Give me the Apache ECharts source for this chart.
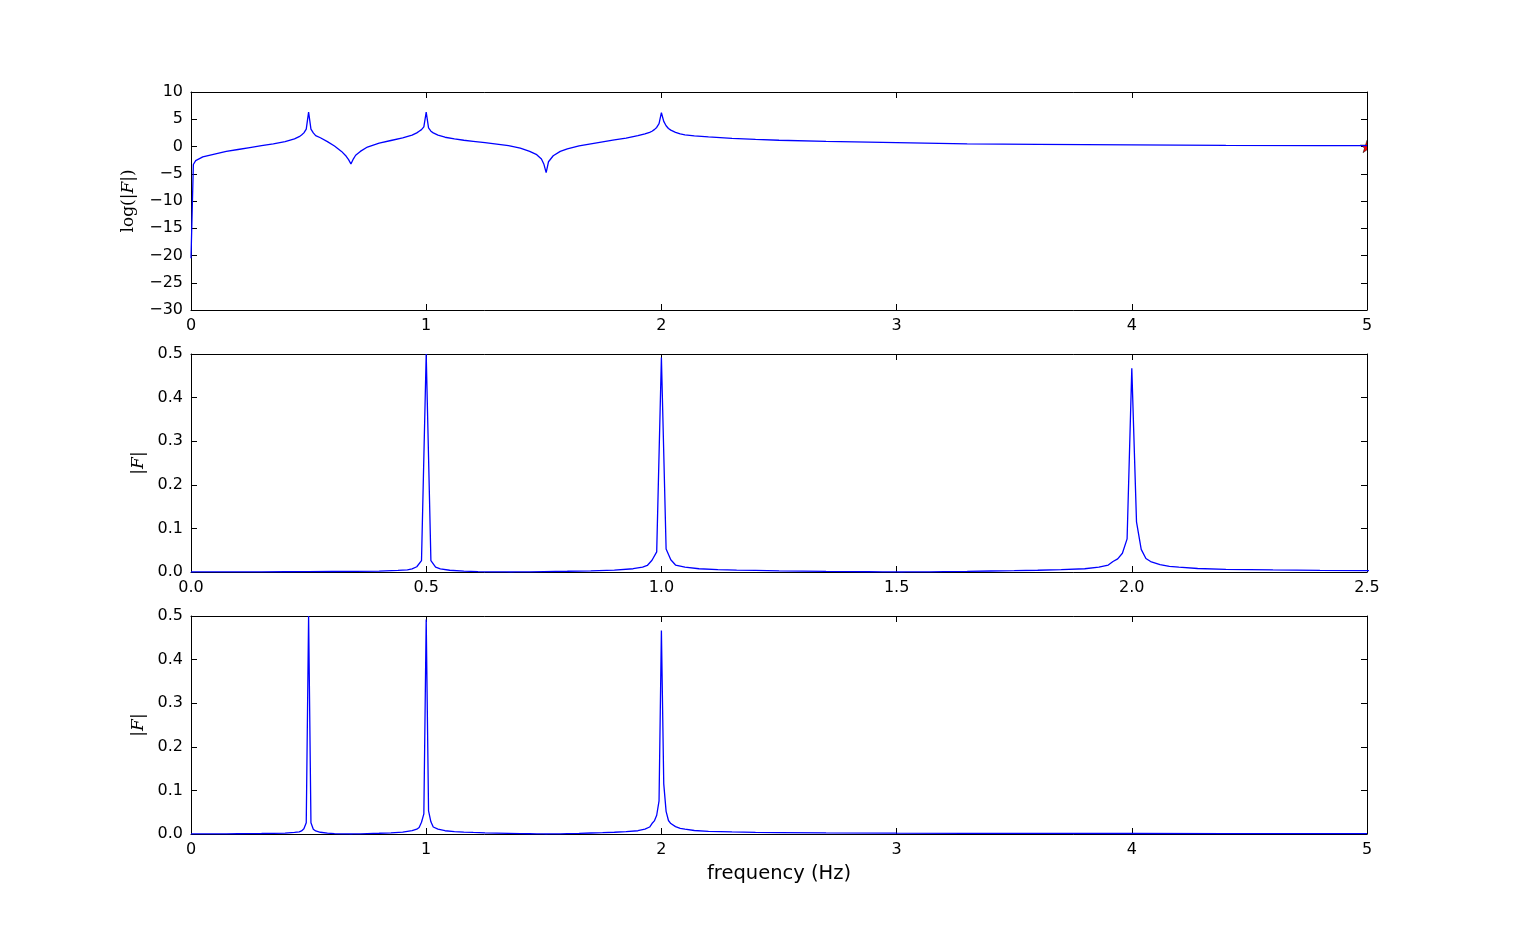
<!DOCTYPE html>
<html>
<head>
<meta charset="utf-8">
<script src="https://cdn.jsdelivr.net/npm/echarts@6/dist/echarts.min.js"></script>
<style>
html,body{margin:0;padding:0;background:#fff;}
#chart{width:1518px;height:927px;}
</style>
</head>
<body>
<div id="chart"></div>
<script>
// Frequencies (Hz) at which values were read
const freqs = [0, 0.01, 0.02, 0.05, 0.1, 0.15, 0.2, 0.25, 0.3, 0.35, 0.4, 0.44, 0.46, 0.47, 0.48, 0.49, 0.5, 0.51, 0.52, 0.53, 0.55, 0.58, 0.61, 0.64, 0.66, 0.67, 0.68, 0.69, 0.7, 0.72, 0.75, 0.8, 0.85, 0.9, 0.94, 0.96, 0.97, 0.98, 0.99, 1.0, 1.01, 1.02, 1.03, 1.05, 1.08, 1.12, 1.16, 1.2, 1.25, 1.3, 1.35, 1.4, 1.44, 1.47, 1.49, 1.5, 1.51, 1.52, 1.54, 1.57, 1.6, 1.65, 1.7, 1.75, 1.8, 1.85, 1.9, 1.93, 1.95, 1.96, 1.97, 1.98, 1.99, 2.0, 2.01, 2.02, 2.03, 2.04, 2.06, 2.08, 2.1, 2.14, 2.2, 2.3, 2.4, 2.5, 2.7, 3.0, 3.3, 3.6, 4.0, 4.4, 4.8, 5.0];

// log(|F|)
const logF = [-20.5, -3.3, -2.6, -1.9, -1.4, -0.9, -0.55, -0.2, 0.15, 0.5, 0.9, 1.4, 1.8, 2.1, 2.5, 3.2, 6.3, 3.2, 2.5, 2.0, 1.6, 0.9, 0.1, -0.9, -1.8, -2.4, -3.2, -2.3, -1.6, -0.9, -0.1, 0.6, 1.1, 1.6, 2.1, 2.5, 2.8, 3.1, 3.6, 6.3, 3.4, 2.8, 2.5, 2.1, 1.7, 1.4, 1.15, 0.95, 0.7, 0.45, 0.15, -0.3, -0.9, -1.5, -2.3, -3.2, -4.8, -2.8, -1.7, -0.9, -0.45, 0.1, 0.5, 0.85, 1.2, 1.55, 2.0, 2.3, 2.6, 2.8, 3.1, 3.5, 4.2, 6.2, 4.6, 3.8, 3.3, 3.0, 2.6, 2.3, 2.15, 1.95, 1.75, 1.5, 1.3, 1.15, 0.95, 0.7, 0.5, 0.4, 0.3, 0.22, 0.17, 0.15];

// |F| read from middle / bottom panels
const absF = [0, 0.0001, 0.0001, 0.0002, 0.0003, 0.0004, 0.0006, 0.0008, 0.0011, 0.0015, 0.0022, 0.0037, 0.005, 0.007, 0.012, 0.026, 0.5, 0.026, 0.011, 0.007, 0.004, 0.002, 0.001, 0.0004, 0.0002, 0.0001, 0.00004, 0.0001, 0.0002, 0.0004, 0.0009, 0.0017, 0.0028, 0.0045, 0.0075, 0.011, 0.015, 0.027, 0.046, 0.492, 0.053, 0.028, 0.016, 0.011, 0.0075, 0.0055, 0.0043, 0.0035, 0.0027, 0.0021, 0.0015, 0.001, 0.0006, 0.0003, 0.0002, 0.0001, 0.00001, 0.0001, 0.0002, 0.0005, 0.0009, 0.0015, 0.0023, 0.003, 0.004, 0.0055, 0.0075, 0.011, 0.016, 0.024, 0.03, 0.043, 0.076, 0.467, 0.115, 0.052, 0.031, 0.024, 0.017, 0.013, 0.011, 0.008, 0.006, 0.0047, 0.0038, 0.0032, 0.0025, 0.0018, 0.0015, 0.0013, 0.0012, 0.001, 0.0009, 0.0008];

// Marker (red star) in top panel
const starPoint = [5, 0.0];

const FONT = 'DejaVu Sans';
const minus = v => String(v).replace('-', '\u2212');
const STAR = 'M50,0 L61,35 L98,35 L68,57 L79,91 L50,70 L21,91 L32,57 L2,35 L39,35 Z';

function gridDef(top) { return {left: 191, right: 151, top: top, height: 218, containLabel: false}; }

function xAx(grid, max, interval, fmt, pos, extra) {
  const a = {
    type: 'value', gridIndex: grid, min: 0, max: max, interval: interval, position: pos,
    axisLine: {show: true, onZero: false, lineStyle: {color: '#000', width: 1}},
    axisTick: {show: true, inside: true, length: 6, lineStyle: {color: '#000'}},
    axisLabel: {show: pos === 'bottom', color: '#000', fontFamily: FONT, fontSize: 16, margin: 8, formatter: fmt},
    splitLine: {show: false}
  };
  return Object.assign(a, extra || {});
}
function yAx(grid, min, max, interval, fmt, pos, extra) {
  const a = {
    type: 'value', gridIndex: grid, min: min, max: max, interval: interval, position: pos,
    axisLine: {show: true, onZero: false, lineStyle: {color: '#000', width: 1}},
    axisTick: {show: true, inside: true, length: 6, lineStyle: {color: '#000'}},
    axisLabel: {show: pos === 'left', color: '#000', fontFamily: FONT, fontSize: 16, margin: 8, formatter: fmt},
    splitLine: {show: false}
  };
  return Object.assign(a, extra || {});
}

const richMath = {
  r: {fontFamily: 'DejaVu Serif', fontSize: 17, color: '#000'},
  i: {fontFamily: 'DejaVu Serif', fontStyle: 'italic', fontSize: 17, color: '#000'}
};

const f0 = v => minus(v);
const f1 = v => v.toFixed(1);

const option = {
  animation: false,
  backgroundColor: '#fff',
  grid: [gridDef(92), gridDef(354), gridDef(616)],
  xAxis: [
    xAx(0, 5, 1, f0, 'bottom'),
    xAx(0, 5, 1, f0, 'top'),
    xAx(1, 2.5, 0.5, f1, 'bottom'),
    xAx(1, 2.5, 0.5, f1, 'top'),
    xAx(2, 5, 1, f0, 'bottom', {name: 'frequency (Hz)', nameLocation: 'middle', nameGap: 30,
      nameTextStyle: {fontFamily: FONT, fontSize: 19.5, color: '#000'}}),
    xAx(2, 5, 1, f0, 'top')
  ],
  yAxis: [
    yAx(0, -30, 10, 5, f0, 'left', {name: '{r|log(|}{i|F}{r||)}', nameLocation: 'middle', nameGap: 54,
      nameRotate: 90, nameTextStyle: {rich: richMath}}),
    yAx(0, -30, 10, 5, f0, 'right'),
    yAx(1, 0, 0.5, 0.1, f1, 'left', {name: '{r||}{i|F}{r||}', nameLocation: 'middle', nameGap: 44,
      nameRotate: 90, nameTextStyle: {rich: richMath}}),
    yAx(1, 0, 0.5, 0.1, f1, 'right'),
    yAx(2, 0, 0.5, 0.1, f1, 'left', {name: '{r||}{i|F}{r||}', nameLocation: 'middle', nameGap: 44,
      nameRotate: 90, nameTextStyle: {rich: richMath}}),
    yAx(2, 0, 0.5, 0.1, f1, 'right')
  ],
  series: [
    {type: 'line', xAxisIndex: 0, yAxisIndex: 0, data: freqs.map((f, k) => [f, logF[k]]),
      showSymbol: false, symbol: 'none', lineStyle: {color: '#0000ff', width: 1.3}, clip: true},
    {type: 'custom', xAxisIndex: 0, yAxisIndex: 0, data: [starPoint], clip: true,
      renderItem: function (params, api) {
        const p = api.coord([api.value(0), api.value(1)]);
        const s = 13;
        return {
          type: 'path',
          shape: {pathData: STAR, x: p[0] - s / 2, y: p[1] - s / 2, width: s, height: s},
          style: {fill: '#ff0000', stroke: '#000', lineWidth: 0.5}
        };
      }},
    {type: 'line', xAxisIndex: 2, yAxisIndex: 2, data: freqs.map((f, k) => [f, absF[k]]),
      showSymbol: false, symbol: 'none', lineStyle: {color: '#0000ff', width: 1.3}, clip: true},
    {type: 'line', xAxisIndex: 4, yAxisIndex: 4, data: freqs.map((f, k) => [f, absF[k]]),
      showSymbol: false, symbol: 'none', lineStyle: {color: '#0000ff', width: 1.3}, clip: true}
  ]
};

const chart = echarts.init(document.getElementById('chart'), null, {renderer: 'canvas'});
chart.setOption(option);
</script>
</body>
</html>
